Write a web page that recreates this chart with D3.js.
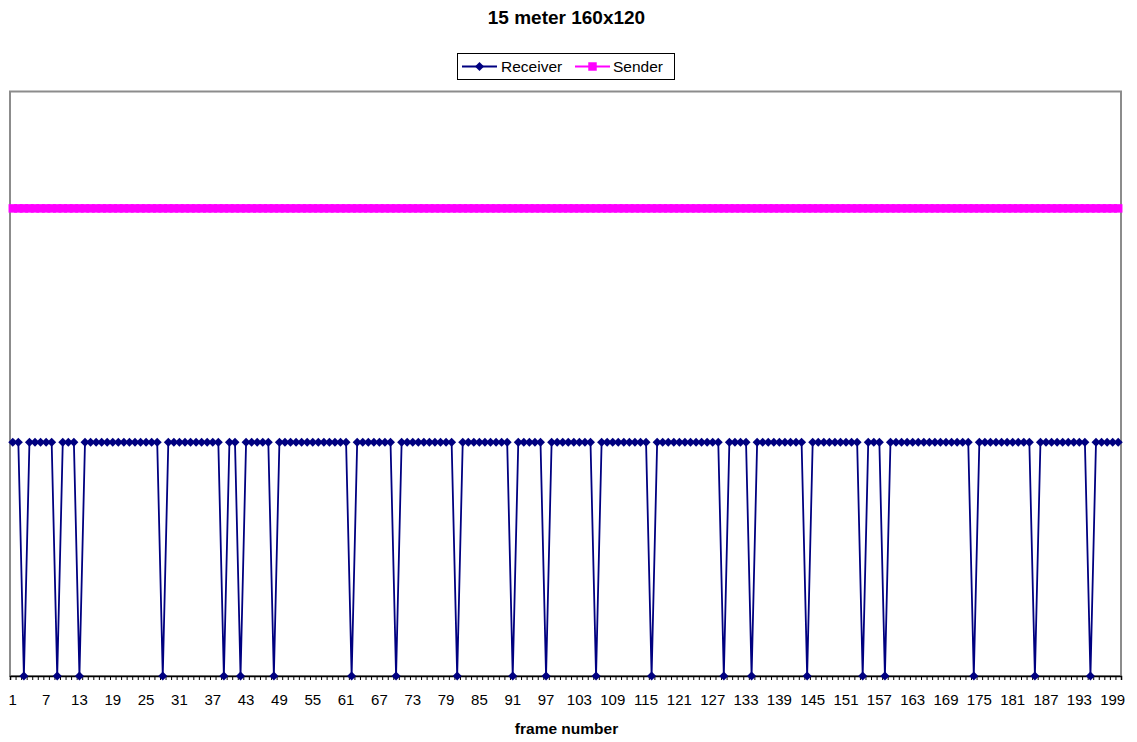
<!DOCTYPE html>
<html>
<head>
<meta charset="utf-8">
<script src="https://cdn.jsdelivr.net/npm/d3@7"></script>
<style>
  body { margin: 0; background: #fff; }
  text { font-family: Arial, "Liberation Sans", sans-serif; }
</style>
</head>
<body>
<script>
// frame numbers 1..200
var frames = d3.range(1, 201);

// 1 = frame received, 0 = lost
var receiver = [
  1,1,0,1,1,1,1,1,0,1,1,1,0,1,1,1,1,1,1,1,
  1,1,1,1,1,1,1,0,1,1,1,1,1,1,1,1,1,1,0,1,
  1,0,1,1,1,1,1,0,1,1,1,1,1,1,1,1,1,1,1,1,
  1,0,1,1,1,1,1,1,1,0,1,1,1,1,1,1,1,1,1,1,
  0,1,1,1,1,1,1,1,1,1,0,1,1,1,1,1,0,1,1,1,
  1,1,1,1,1,0,1,1,1,1,1,1,1,1,1,0,1,1,1,1,
  1,1,1,1,1,1,1,1,0,1,1,1,1,0,1,1,1,1,1,1,
  1,1,1,0,1,1,1,1,1,1,1,1,1,0,1,1,1,0,1,1,
  1,1,1,1,1,1,1,1,1,1,1,1,1,0,1,1,1,1,1,1,
  1,1,1,1,0,1,1,1,1,1,1,1,1,1,0,1,1,1,1,1
];

var sender = [
  2,2,2,2,2,2,2,2,2,2,2,2,2,2,2,2,2,2,2,2,
  2,2,2,2,2,2,2,2,2,2,2,2,2,2,2,2,2,2,2,2,
  2,2,2,2,2,2,2,2,2,2,2,2,2,2,2,2,2,2,2,2,
  2,2,2,2,2,2,2,2,2,2,2,2,2,2,2,2,2,2,2,2,
  2,2,2,2,2,2,2,2,2,2,2,2,2,2,2,2,2,2,2,2,
  2,2,2,2,2,2,2,2,2,2,2,2,2,2,2,2,2,2,2,2,
  2,2,2,2,2,2,2,2,2,2,2,2,2,2,2,2,2,2,2,2,
  2,2,2,2,2,2,2,2,2,2,2,2,2,2,2,2,2,2,2,2,
  2,2,2,2,2,2,2,2,2,2,2,2,2,2,2,2,2,2,2,2,
  2,2,2,2,2,2,2,2,2,2,2,2,2,2,2,2,2,2,2,2
];

// every 6th frame gets a label
var tickLabels = [1,7,13,19,25,31,37,43,49,55,61,67,73,79,85,91,97,103,109,115,121,127,133,139,145,151,157,163,169,175,181,187,193,199];

var W = 1137, H = 742;
var plotLeft = 10, plotRight = 1121, plotTop = 91.5, plotBottom = 676;

var svg = d3.select("body").append("svg")
    .attr("width", W)
    .attr("height", H);

svg.append("rect").attr("width", W).attr("height", H).attr("fill", "#fff");

var x = d3.scaleBand().domain(frames).range([plotLeft, plotRight]).padding(0);
var xb = d3.scaleLinear().domain([0, frames.length]).range([plotLeft, plotRight]);
var y = d3.scaleLinear().domain([0, 2.5]).range([plotBottom, plotTop]);
var cx = function(d) { return x(d) + x.bandwidth() / 2; };

// plot area border
svg.append("rect")
    .attr("x", plotLeft).attr("y", plotTop)
    .attr("width", plotRight - plotLeft).attr("height", plotBottom - plotTop)
    .attr("fill", "none")
    .attr("stroke", "#8c8c8c")
    .attr("stroke-width", 2);

// title
svg.append("text")
    .attr("x", W / 2 - 2).attr("y", 24)
    .attr("text-anchor", "middle")
    .style("font-size", "19px")
    .style("font-weight", "bold")
    .text("15 meter 160x120");

// x axis: tick marks between categories
svg.append("g")
    .attr("transform", "translate(0," + plotBottom + ")")
    .call(d3.axisBottom(xb).tickValues(d3.range(0, frames.length + 1)).tickSize(4).tickFormat(""))
    .call(function(g) {
      g.select(".domain").attr("stroke", "#000").attr("stroke-width", 1.5);
      g.selectAll(".tick line").attr("stroke", "#000");
    });

// x axis: labels
svg.append("g")
    .attr("transform", "translate(0," + plotBottom + ")")
    .call(d3.axisBottom(x).tickValues(tickLabels).tickSize(0).tickPadding(18))
    .call(function(g) {
      g.select(".domain").remove();
      g.selectAll("text")
        .style("font-family", "Arial, 'Liberation Sans', sans-serif")
        .style("font-size", "15px")
        .attr("fill", "#000");
    });

svg.append("text")
    .attr("x", (plotLeft + plotRight) / 2 + 1).attr("y", 734)
    .attr("text-anchor", "middle")
    .style("font-size", "15.5px")
    .style("font-weight", "bold")
    .text("frame number");

var line = d3.line()
    .x(function(d, i) { return cx(frames[i]); })
    .y(function(d) { return y(d); });

var diamond = d3.symbol().type(d3.symbolDiamond2).size(52);
var square = d3.symbol().type(d3.symbolSquare).size(72);

// sender
svg.append("path")
    .datum(sender)
    .attr("d", line)
    .attr("fill", "none")
    .attr("stroke", "#ff00ff")
    .attr("stroke-width", 2);

svg.append("g").selectAll("path")
    .data(sender)
    .enter().append("path")
    .attr("d", square)
    .attr("transform", function(d, i) { return "translate(" + cx(frames[i]) + "," + y(d) + ")"; })
    .attr("fill", "#ff00ff");

// receiver
svg.append("path")
    .datum(receiver)
    .attr("d", line)
    .attr("fill", "none")
    .attr("stroke", "#000080")
    .attr("stroke-width", 1.8);

svg.append("g").selectAll("path")
    .data(receiver)
    .enter().append("path")
    .attr("d", diamond)
    .attr("transform", function(d, i) { return "translate(" + cx(frames[i]) + "," + y(d) + ")"; })
    .attr("fill", "#000080");

// legend
var lg = svg.append("g");
lg.append("rect")
    .attr("x", 457.5).attr("y", 53.5)
    .attr("width", 217).attr("height", 26)
    .attr("fill", "#fff")
    .attr("stroke", "#000")
    .attr("stroke-width", 1);

var ly = 66.5;
lg.append("line").attr("x1", 462).attr("x2", 497).attr("y1", ly).attr("y2", ly)
    .attr("stroke", "#000080").attr("stroke-width", 1.8);
lg.append("path").attr("d", diamond).attr("transform", "translate(479.5," + ly + ")").attr("fill", "#000080");
lg.append("text").attr("x", 501).attr("y", ly + 5.5).style("font-size", "15.5px").text("Receiver");

lg.append("line").attr("x1", 575).attr("x2", 610).attr("y1", ly).attr("y2", ly)
    .attr("stroke", "#ff00ff").attr("stroke-width", 2);
lg.append("path").attr("d", square).attr("transform", "translate(592.5," + ly + ")").attr("fill", "#ff00ff");
lg.append("text").attr("x", 613).attr("y", ly + 5.5).style("font-size", "15.5px").text("Sender");
</script>
</body>
</html>
